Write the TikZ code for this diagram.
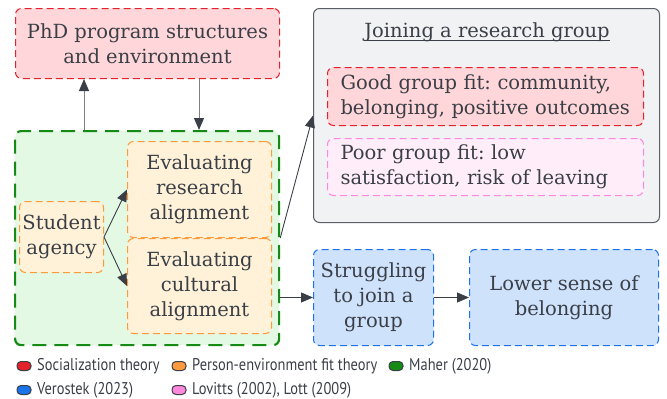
\documentclass[tikz,border=0pt]{standalone}
\usepackage{fontspec}
\setmainfont{DejaVu Serif}
\newfontfamily\legfont[FakeStretch=0.85]{PT Sans}
\usetikzlibrary{arrows.meta,calc}
\definecolor{txt}{HTML}{3A3F47}
\definecolor{redb}{HTML}{E3222B}\definecolor{redf}{HTML}{FFD6D9}
\definecolor{orab}{HTML}{FF9A3C}\definecolor{oraf}{HTML}{FFF2D9}
\definecolor{grnb}{HTML}{158A15}\definecolor{grnf}{HTML}{E3F9E3}
\definecolor{blub}{HTML}{1A73E8}\definecolor{bluf}{HTML}{CFE2FB}
\definecolor{pnkb}{HTML}{FF88DD}\definecolor{pnkf}{HTML}{FFEEFA}
\definecolor{gryb}{HTML}{5A5E66}\definecolor{gryf}{HTML}{F1F2F4}
\begin{document}
\frenchspacing
\begin{tikzpicture}[x=1pt,y=-1pt,
  mainfont/.style={font=\fontsize{19.5}{25}\selectfont},
  box/.style={rounded corners=6pt, line width=1pt, dash pattern=on 7pt off 4pt,
    anchor=north west, inner sep=0pt, align=center, text=txt, mainfont},
  redbox/.style={box, draw=redb, fill=redf},
  orabox/.style={box, draw=orab, fill=oraf},
  blubox/.style={box, draw=blub, fill=bluf},
  pnkbox/.style={box, draw=pnkb, fill=pnkf},
  arr/.style={draw=txt, line width=0.9pt, -{Triangle[length=12pt,width=10pt,color=txt]}},
  sw/.style={rounded corners=4pt, draw=txt, line width=1pt, minimum width=14pt, minimum height=9pt, inner sep=0pt},
  leg/.style={anchor=west, text=txt, inner sep=0pt, font=\legfont\fontsize{17}{20}\selectfont},
]
\useasboundingbox (0,0) rectangle (667,399);
% PhD box
\node[redbox, minimum width=264pt, minimum height=70pt] (phd) at (15,8) {PhD program structures\\and environment};
% green box
\node[box, draw=grnb, fill=grnf, line width=2.2pt, dash pattern=on 14pt off 8pt, minimum width=264pt, minimum height=214pt] (grn) at (14,130) {};
\node[orabox, minimum width=84pt, minimum height=71pt] (sa) at (19,201) {Student\\agency};
\node[orabox, minimum width=144pt, minimum height=96pt] (ra) at (127,141) {Evaluating\\research\\alignment};
\node[orabox, minimum width=144pt, minimum height=95pt] (ca) at (127,238) {Evaluating\\cultural\\alignment};
% joining box
\node[box, draw=gryb, fill=gryf, dash pattern=, rounded corners=6pt, minimum width=346pt, minimum height=214pt] (join) at (313,8) {};
\node[anchor=base, text=txt, inner sep=0pt, mainfont] (title) at (487,37) {Joining a research group};
\draw[txt, line width=0.9pt] ($(title.base west)+(0,3)$) -- ($(title.base east)+(0,3)$);
\node[redbox, minimum width=316pt, minimum height=58pt, align=left, text width=290pt] (good) at (327,67) {Good group fit: community,\\belonging, positive outcomes};
\node[pnkbox, minimum width=316pt, minimum height=57pt, align=left, text width=290pt] (poor) at (327,138) {Poor group fit: low\\satisfaction, risk of leaving};
% lower boxes
\node[blubox, minimum width=120pt, minimum height=96pt] (str) at (313,249) {Struggling\\to join a\\group};
\node[blubox, minimum width=189pt, minimum height=96pt] (low) at (469,249) {Lower sense of\\belonging};
% connectors
\coordinate (u1) at (84,0);
\coordinate (u2) at (199,0);
\draw[arr, draw=gray] (grn.north -| u1) -- (phd.south -| u1);
\draw[arr, draw=gray] (phd.south -| u2) -- (grn.north -| u2);
\draw[arr] (sa.east) -- (ra.west);
\draw[arr] (sa.east) -- (ca.west);
\draw[arr] (grn.east) -- (join.west);
\draw[arr] (grn.east |- str.west) -- (str.west);
\draw[arr] (str.east) -- (low.west);
% legend
\node[sw, fill=redb] (s1) at (24,366) {};
\node[leg] (l1) at (37,366) {Socialization theory};
\node[sw, fill=orab] (s2) at (179,366) {};
\node[leg] (l2) at (192,366) {Person-environment fit theory};
\node[sw, fill=grnb] (s3) at (396,366) {};
\node[leg] (l3) at (409,366) {Maher (2020)};
\node[sw, fill=blub] (s4) at (24,390) {};
\node[leg] (l4) at (37,390) {Verostek (2023)};
\node[sw, fill=pnkb] (s5) at (179,390) {};
\node[leg] (l5) at (192,390) {Lovitts (2002), Lott (2009)};
\end{tikzpicture}
\end{document}
